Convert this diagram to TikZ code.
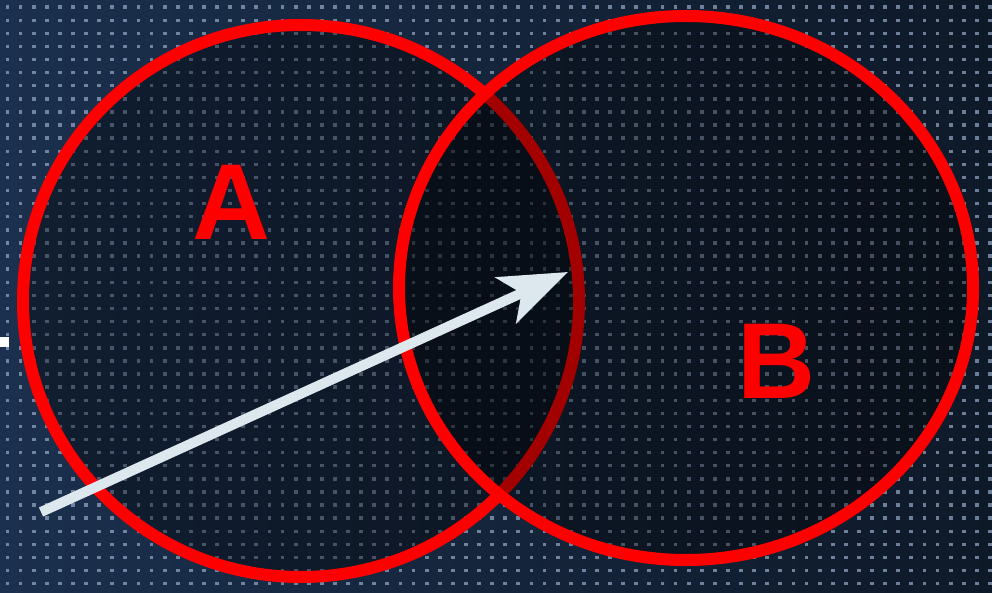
\documentclass[tikz,border=0pt]{standalone}
\usepackage{fontspec}
\setmainfont{Liberation Sans}
\usetikzlibrary{arrows.meta}
\definecolor{bgL}{RGB}{27,48,78}
\definecolor{bgR}{RGB}{14,25,40}
\definecolor{dotc}{RGB}{150,170,200}
\definecolor{ringred}{RGB}{255,0,0}
\definecolor{arrowc}{RGB}{221,232,238}
\tikzset{
  ring/.style={draw=ringred, line width=12pt, fill=black, fill opacity=0.36, draw opacity=1},
  lettr/.style={text=ringred, font=\bfseries\fontsize{108}{108}\selectfont, inner sep=0pt},
  bigarrow/.style={draw=arrowc, line width=10pt, -{Stealth[length=68pt,width=50pt,inset=17pt]}}
}
\begin{document}
\begin{tikzpicture}[x=1pt,y=-1pt]
\useasboundingbox (0,0) rectangle (992,593);
\shade[left color=bgL, right color=bgR] (0,0) rectangle (992,593);
\foreach \i in {0,...,75}{
  \foreach \j in {0,...,45}{
    \fill[dotc, opacity=0.7] ({5.5+13.1*\i},{5.5+13.1*\j}) rectangle +(3.8,3.4);
  }
}
\fill[white] (0,337) rectangle (9,347);
\path[ring] (301,301) ellipse [x radius=278, y radius=276];
\path[ring] (686,288) ellipse [x radius=287, y radius=272];
\node[lettr] (A) at (231,202) {A};
\node[lettr] (B) at (776,361) {B};
\coordinate (s) at (41,512);
\coordinate (t) at (568,272);
\draw[bigarrow] (s) -- (t);
\end{tikzpicture}
\end{document}
